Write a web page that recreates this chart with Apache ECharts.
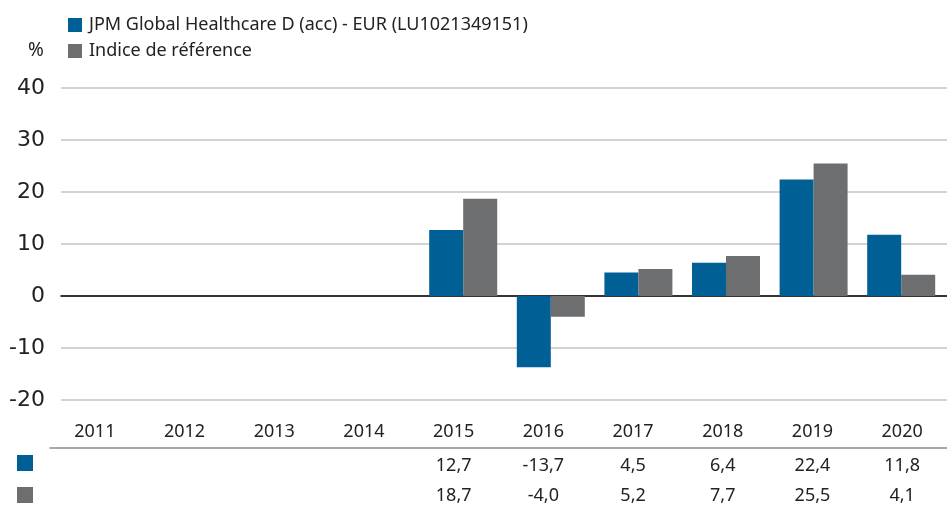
<!DOCTYPE html>
<html>
<head>
<meta charset="utf-8">
<script src="https://cdn.jsdelivr.net/npm/echarts@6/dist/echarts.min.js"></script>
<style>
  html, body { margin: 0; padding: 0; background: #fff; }
  #chart { width: 947px; height: 505px; }
</style>
</head>
<body>
<div id="chart"></div>
<script>
// data
let years = ['2011', '2012', '2013', '2014', '2015', '2016', '2017', '2018', '2019', '2020'];
let fundName = 'JPM Global Healthcare D (acc) - EUR (LU1021349151)';
let indexName = 'Indice de référence';
let fund = [null, null, null, null, 12.7, -13.7, 4.5, 6.4, 22.4, 11.8];
let bench = [null, null, null, null, 18.7, -4.0, 5.2, 7.7, 25.5, 4.1];
let yTicks = { min: -20, max: 40, interval: 10 };

let colors = ['#006096', '#6d6e70'];
let font = 'Noto Sans';

// table cells, french decimal comma
function fmt(v) {
  return v == null ? '' : v.toFixed(1).replace('.', ',');
}

let myChart = echarts.init(document.getElementById('chart'));
myChart.setOption({
  animation: false,
  color: colors,
  title: {
    text: '%',
    left: 23,
    top: 36,
    textStyle: { fontFamily: font, fontSize: 19, fontWeight: 'normal', color: '#222' }
  },
  legend: {
    orient: 'vertical',
    left: 63,
    top: 11,
    itemWidth: 14,
    itemHeight: 14,
    itemGap: 8,
    icon: 'rect',
    textStyle: { fontFamily: font, fontSize: 18, color: '#222', padding: [0, 0, 0, 2] },
    data: [fundName, indexName]
  },
  grid: [
    // bars
    { left: 69, right: 2, top: 88, height: 312 },
    // gridlines + y labels (wider)
    { left: 61, right: 0, top: 88, height: 312 },
    // table under the chart
    { left: 50, right: 0, top: 447, height: 1 }
  ],
  xAxis: [
    { type: 'category', gridIndex: 0, data: years, show: false },
    {
      type: 'category', gridIndex: 1, data: years,
      axisLine: { show: true, onZero: true, lineStyle: { color: '#000', width: 1.5 } },
      axisTick: { show: false },
      axisLabel: { show: false }
    },
    {
      type: 'category', gridIndex: 2, data: years, position: 'top',
      axisLine: { show: true, lineStyle: { color: '#8a8a8a', width: 1.5 } },
      axisTick: { show: false },
      axisLabel: { margin: 6, fontFamily: font, fontSize: 18, color: '#222' }
    },
    {
      type: 'category', gridIndex: 2, data: fund.map(fmt), position: 'bottom',
      axisLine: { show: false },
      axisTick: { show: false },
      axisLabel: { margin: 10, fontFamily: font, fontSize: 18, color: '#222' }
    },
    {
      type: 'category', gridIndex: 2, data: bench.map(fmt), position: 'bottom', offset: 30,
      axisLine: { show: false },
      axisTick: { show: false },
      axisLabel: { margin: 10, fontFamily: font, fontSize: 18, color: '#222' }
    }
  ],
  yAxis: [
    {
      type: 'value', gridIndex: 0,
      min: yTicks.min, max: yTicks.max, interval: yTicks.interval,
      show: false
    },
    {
      type: 'value', gridIndex: 1,
      min: yTicks.min, max: yTicks.max, interval: yTicks.interval,
      axisLine: { show: false },
      axisTick: { show: false },
      axisLabel: { margin: 16, fontFamily: 'DejaVu Sans', fontSize: 22, color: '#222' },
      splitLine: { lineStyle: { color: '#c4c4c4', width: 1.5 } }
    },
    { type: 'value', gridIndex: 2, show: false }
  ],
  graphic: [
    { type: 'rect', left: 17, top: 455, shape: { width: 16, height: 16 }, style: { fill: colors[0] } },
    { type: 'rect', left: 17, top: 487, shape: { width: 16, height: 16 }, style: { fill: colors[1] } }
  ],
  series: [
    {
      name: fundName,
      type: 'bar',
      xAxisIndex: 0,
      yAxisIndex: 0,
      barWidth: 34,
      barGap: '0%',
      data: fund
    },
    {
      name: indexName,
      type: 'bar',
      xAxisIndex: 0,
      yAxisIndex: 0,
      barWidth: 34,
      barGap: '0%',
      data: bench
    }
  ]
});
</script>
</body>
</html>
